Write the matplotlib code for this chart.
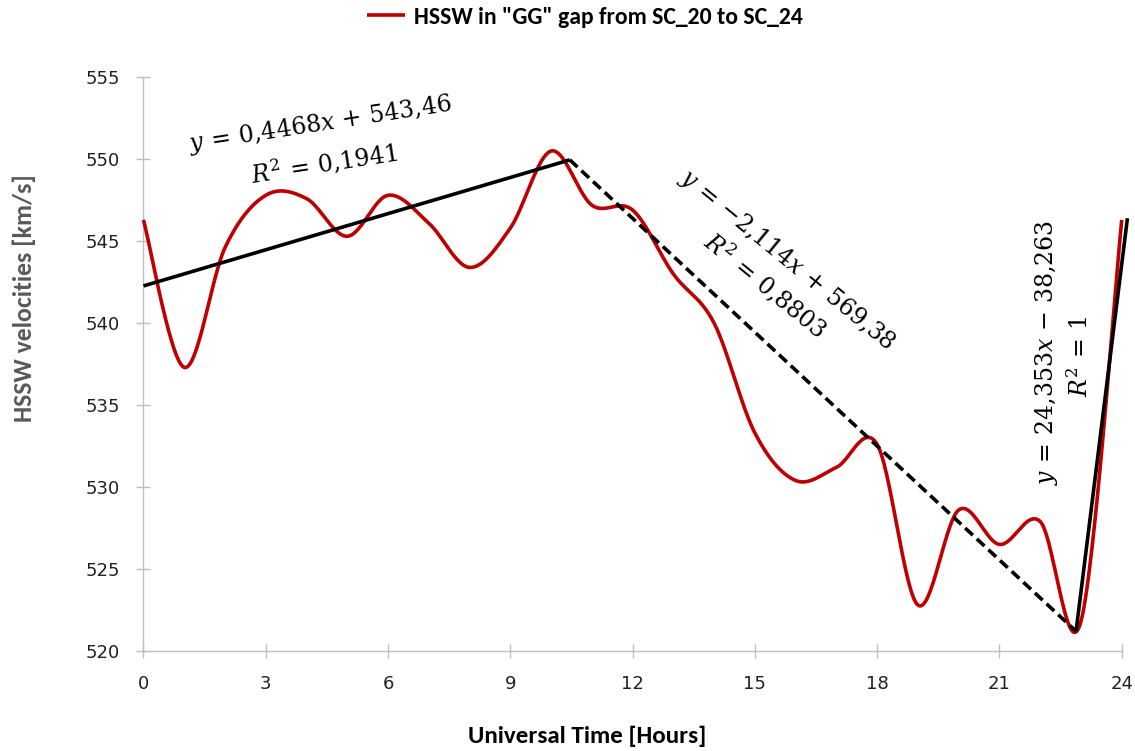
import numpy as np
import matplotlib
matplotlib.use("Agg")
import matplotlib.pyplot as plt
from matplotlib import font_manager

# ---------------- data ----------------
hours = list(range(0, 25))
velocity = [546.3, 537.3, 544.6, 547.8, 547.6, 545.3, 547.8, 546.1, 543.4, 545.8,
            550.5, 547.2, 546.9, 543.0, 540.0, 533.3, 530.4, 531.2, 532.6, 522.8,
            528.6, 526.5, 527.9, 521.8, 546.3]
series_label = 'HSSW in "GG" gap from SC_20 to SC_24'

trend1_x = [0.0, 10.46]
trend1_y = [542.27, 549.96]
trend2_x = [10.46, 22.88]
trend2_y = [549.96, 521.2]
trend3_x = [22.88, 24.14]
trend3_y = [521.2, 546.4]

eq1 = [r"$y\,=\,0{,}4468x\,+\,543{,}46$", r"$R^2\,=\,0{,}1941$"]
eq2 = [r"$y\,=\,{-}2{,}114x\,+\,569{,}38$", r"$R^2\,=\,0{,}8803$"]
eq3 = [r"$y\,=\,24{,}353x\,-\,38{,}263$", r"$R^2\,=\,1$"]

x_ticks = [0, 3, 6, 9, 12, 15, 18, 21, 24]
y_ticks = [520, 525, 530, 535, 540, 545, 550, 555]


def pick_font(cands):
    names = {f.name for f in font_manager.fontManager.ttflist}
    for c in cands:
        if c in names:
            return c
    return "DejaVu Sans"


narrow = pick_font(["Carlito", "Liberation Sans Narrow", "Open Sans", "DejaVu Sans"])

plt.rcParams["mathtext.fontset"] = "dejavuserif"


def smooth(xs, ys, n=30):
    P = np.column_stack([xs, ys]).astype(float)
    m = len(P)
    out = []
    for i in range(m - 1):
        p0 = P[max(i - 1, 0)]
        p1 = P[i]
        p2 = P[i + 1]
        p3 = P[min(i + 2, m - 1)]
        b1 = p1 + (p2 - p0) / 6.0
        b2 = p2 - (p3 - p1) / 6.0
        t = np.linspace(0, 1, n)[:, None]
        seg = ((1 - t) ** 3) * p1 + 3 * ((1 - t) ** 2) * t * b1 + 3 * (1 - t) * t ** 2 * b2 + t ** 3 * p2
        out.append(seg if i == 0 else seg[1:])
    out = np.vstack(out)
    return out[:, 0], out[:, 1]


fig = plt.figure(figsize=(11.35, 7.51), dpi=100)
ax = fig.add_axes([0.1264, 0.1332, 0.8619, 0.7639])

sx, sy = smooth(hours, velocity)
line, = ax.plot(sx, sy, color="#C00000", lw=2.6, label=series_label, zorder=3,
                solid_capstyle="butt", clip_on=False)
ax.plot(trend1_x, trend1_y, color="black", lw=2.6, zorder=4, solid_capstyle="butt")
ax.plot(trend2_x, trend2_y, color="black", lw=2.6, ls=(0, (2.9, 1.5)), zorder=4)
ax.plot(trend3_x, trend3_y, color="black", lw=2.6, zorder=4, clip_on=False, solid_capstyle="butt")

ax.set_xlim(0, 24)
ax.set_ylim(520, 555)
ax.set_xticks(x_ticks)
ax.set_yticks(y_ticks)

for s in ["top", "right"]:
    ax.spines[s].set_visible(False)
for s in ["left", "bottom"]:
    ax.spines[s].set_color("#BFBFBF")
    ax.spines[s].set_linewidth(1.0)

ax.tick_params(axis="both", direction="inout", length=10, width=1.0, color="#BFBFBF",
               labelsize=13, labelcolor="#202020")
ax.tick_params(axis="y", pad=12)
ax.tick_params(axis="x", pad=12)

eqkw = dict(fontsize=17, color="black", ha="center", va="center", rotation_mode="anchor")
ax.text(4.35, 552.1, eq1[0], rotation=8.8, **eqkw)
ax.text(4.43, 549.8, eq1[1], rotation=8.8, **eqkw)
ax.text(15.78, 543.87, eq2[0], rotation=-39.3, **eqkw)
ax.text(15.27, 542.34, eq2[1], rotation=-39.3, **eqkw)
ax.text(22.16, 538.2, eq3[0], rotation=90, **eqkw)
ax.text(22.98, 537.96, eq3[1], rotation=90, **eqkw)

fig.text(24 / 1135, 1 - 298 / 751, "HSSW velocities [km/s]", rotation=90,
         ha="center", va="center", fontsize=18.5, fontweight="bold", color="#595959",
         family=[narrow, "DejaVu Sans"])
fig.text(587 / 1135, 1 - 736 / 751, "Universal Time [Hours]",
         ha="center", va="center", fontsize=18, fontweight="bold", color="black",
         family=[narrow, "DejaVu Sans"])

fig.legend(handles=[line], loc="center", bbox_to_anchor=(585 / 1135, 1 - 17 / 751),
           frameon=False, handlelength=1.6, handletextpad=0.4,
           prop=dict(family=[narrow, "DejaVu Sans"], weight="bold", size=17))

fig.savefig("out.png", dpi=100)
